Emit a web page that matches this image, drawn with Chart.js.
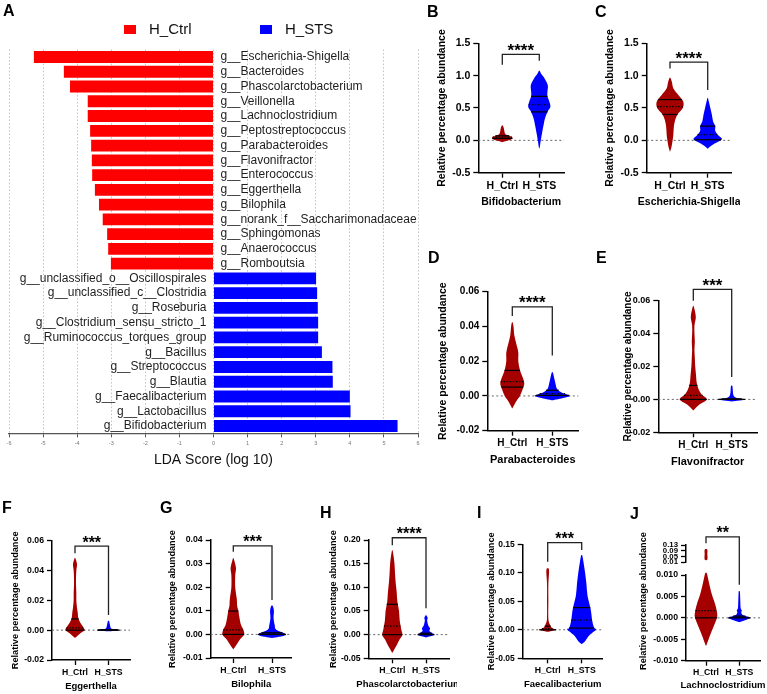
<!DOCTYPE html>
<html>
<head>
<meta charset="utf-8">
<script src="https://cdn.jsdelivr.net/npm/chart.js@4.4.1/dist/chart.umd.min.js"></script>
<style>
  html, body { margin: 0; padding: 0; background: #fff; }
  #fig { position: relative; width: 767px; height: 694px; overflow: hidden; }
  #fig canvas { position: absolute; }
  .tag { position: absolute; font: bold 16px/1 'Liberation Sans', Arial, sans-serif; color: #000; }
</style>
</head>
<body>
<div id="fig"></div>
<script>
// ---- Panel A: LDA scores ----
const ldaGenera = [
  'g__Escherichia-Shigella', 'g__Bacteroides', 'g__Phascolarctobacterium', 'g__Veillonella',
  'g__Lachnoclostridium', 'g__Peptostreptococcus', 'g__Parabacteroides', 'g__Flavonifractor',
  'g__Enterococcus', 'g__Eggerthella', 'g__Bilophila', 'g__norank_f__Saccharimonadaceae',
  'g__Sphingomonas', 'g__Anaerococcus', 'g__Romboutsia',
  'g__unclassified_o__Oscillospirales', 'g__unclassified_c__Clostridia', 'g__Roseburia',
  'g__Clostridium_sensu_stricto_1', 'g__Ruminococcus_torques_group', 'g__Bacillus',
  'g__Streptococcus', 'g__Blautia', 'g__Faecalibacterium', 'g__Lactobacillus', 'g__Bifidobacterium'
]
const ldaCtrl = [-5.27, -4.39, -4.21, -3.69, -3.69, -3.62, -3.59, -3.57, -3.56, -3.48, -3.36, -3.25, -3.12, -3.09, -3.01]
const ldaSts = [3.01, 3.04, 3.06, 3.07, 3.07, 3.18, 3.49, 3.50, 4.00, 4.02, 5.40]
const ldaTicks = [-6, -5, -4, -3, -2, -1, 0, 1, 2, 3, 4, 5, 6]

// ---- Violin panels: [value, half-width density] from bottom to top ----
const groups = ['H_Ctrl', 'H_STS']

const bifCtrl = [[-0.03, 0], [-0.015, 0.08], [0.0, 0.18], [0.02, 0.26], [0.04, 0.28], [0.06, 0.24], [0.08, 0.14], [0.10, 0.08], [0.13, 0.06], [0.16, 0.05], [0.19, 0.04], [0.22, 0.02], [0.235, 0]]
const bifSts = [[-0.13, 0], [-0.1, 0.015], [0.0, 0.04], [0.1, 0.07], [0.25, 0.12], [0.35, 0.16], [0.45, 0.23], [0.52, 0.3], [0.6, 0.27], [0.68, 0.22], [0.75, 0.22], [0.85, 0.23], [0.95, 0.15], [1.02, 0.06], [1.08, 0]]
const bifCtrlQ = [0.03, 0.05, 0.07]
const bifStsQ = [0.44, 0.55, 0.68]

const escCtrl = [[-0.18, 0], [-0.1, 0.04], [0.0, 0.07], [0.1, 0.09], [0.2, 0.1], [0.3, 0.13], [0.4, 0.2], [0.5, 0.34], [0.6, 0.35], [0.7, 0.22], [0.8, 0.09], [0.9, 0.05], [0.97, 0]]
const escSts = [[-0.13, 0], [-0.08, 0.1], [-0.03, 0.25], [0.02, 0.38], [0.08, 0.28], [0.15, 0.2], [0.22, 0.2], [0.3, 0.14], [0.4, 0.11], [0.5, 0.07], [0.6, 0.03], [0.66, 0]]
const escCtrlQ = [0.40, 0.52, 0.63]
const escStsQ = [0.01, 0.09, 0.22]

const paraCtrl = [[-0.0072, 0], [-0.003, 0.1], [0.0, 0.19], [0.004, 0.26], [0.007, 0.3], [0.01, 0.27], [0.015, 0.19], [0.02, 0.15], [0.025, 0.15], [0.03, 0.1], [0.035, 0.05], [0.04, 0.03], [0.0425, 0]]
const paraSts = [[-0.0025, 0], [-0.001, 0.3], [0.0, 0.44], [0.001, 0.35], [0.002, 0.23], [0.004, 0.12], [0.007, 0.08], [0.01, 0.05], [0.013, 0.02], [0.0138, 0]]
const paraCtrlQ = [0.0051, 0.0082, 0.0147]
const paraStsQ = [0.0003, 0.0013, 0.0033]

const flavCtrl = [[-0.0067, 0], [-0.003, 0.17], [0.0, 0.35], [0.003, 0.22], [0.006, 0.14], [0.01, 0.09], [0.015, 0.07], [0.02, 0.05], [0.025, 0.04], [0.03, 0.03], [0.035, 0.04], [0.04, 0.03], [0.045, 0.03], [0.05, 0.065], [0.055, 0.03], [0.057, 0]]
const flavSts = [[-0.0013, 0], [-0.0007, 0.2], [0.0, 0.35], [0.0005, 0.2], [0.0015, 0.08], [0.003, 0.04], [0.005, 0.03], [0.008, 0.02], [0.0085, 0]]
const flavCtrlQ = [0.0, 0.0025, 0.0085]
const flavStsQ = [0.0, 0.0001, 0.0003]

const eggCtrl = [[-0.0053, 0], [-0.002, 0.17], [0.0, 0.28], [0.002, 0.25], [0.005, 0.16], [0.008, 0.1], [0.012, 0.08], [0.015, 0.06], [0.02, 0.04], [0.025, 0.04], [0.03, 0.03], [0.035, 0.03], [0.04, 0.04], [0.044, 0.06], [0.047, 0.03], [0.0485, 0]]
const eggSts = [[-0.0008, 0], [0.0, 0.33], [0.001, 0.1], [0.002, 0.06], [0.004, 0.04], [0.006, 0.02], [0.0063, 0]]
const eggCtrlQ = [0.0, 0.0015, 0.0075]
const eggStsQ = [0.0, 0.00005, 0.0002]

const bilCtrl = [[-0.0064, 0], [-0.004, 0.1], [-0.002, 0.18], [0.0, 0.28], [0.002, 0.26], [0.004, 0.2], [0.007, 0.16], [0.01, 0.13], [0.012, 0.1], [0.015, 0.09], [0.02, 0.05], [0.025, 0.05], [0.028, 0.07], [0.031, 0.03], [0.0324, 0]]
const bilSts = [[-0.0015, 0], [-0.001, 0.18], [0.0, 0.36], [0.002, 0.11], [0.004, 0.07], [0.007, 0.04], [0.01, 0.05], [0.012, 0.02], [0.0122, 0]]
const bilCtrlQ = [0.0, 0.0019, 0.0099]
const bilStsQ = [0.0, 0.0002, 0.0007]

const phaCtrl = [[-0.039, 0], [-0.03, 0.07], [-0.02, 0.15], [-0.01, 0.22], [0.0, 0.3], [0.01, 0.27], [0.03, 0.22], [0.05, 0.2], [0.07, 0.15], [0.09, 0.13], [0.11, 0.1], [0.13, 0.08], [0.15, 0.065], [0.17, 0.03], [0.179, 0]]
const phaSts = [[-0.006, 0], [-0.004, 0.1], [0.0, 0.25], [0.004, 0.16], [0.008, 0.1], [0.013, 0.12], [0.02, 0.065], [0.03, 0.035], [0.035, 0.05], [0.04, 0.02], [0.041, 0]]
const phaCtrlQ = [0.0, 0.018, 0.064]
const phaStsQ = [0.0, 0.001, 0.003]

const faeCtrl = [[-0.0035, 0], [-0.002, 0.12], [0.0, 0.25], [0.002, 0.17], [0.005, 0.1], [0.01, 0.06], [0.02, 0.02], [0.05, 0.02], [0.08, 0.02], [0.1, 0.04], [0.107, 0.03], [0.108, 0]]
const faeSts = [[-0.025, 0], [-0.02, 0.1], [-0.01, 0.22], [0.0, 0.42], [0.003, 0.37], [0.01, 0.33], [0.02, 0.3], [0.03, 0.28], [0.04, 0.25], [0.06, 0.17], [0.08, 0.14], [0.1, 0.1], [0.12, 0.05], [0.13, 0.02], [0.131, 0]]
const faeCtrlQ = [0.0, 0.002, 0.0065]
const faeStsQ = [0.003, 0.017, 0.039]

const lacCtrl = [[-0.0065, 0], [-0.0062, 0.02], [-0.0041, 0.12], [-0.0022, 0.22], [0.0, 0.33], [0.0013, 0.33], [0.0033, 0.27], [0.0056, 0.17], [0.0087, 0.075], [0.0103, 0.03], [0.0105, 0]]
const lacCtrlHigh = [[0.024, 0], [0.03, 0.04], [0.05, 0.045], [0.07, 0.04], [0.09, 0.045], [0.1, 0.03], [0.103, 0]]
const lacSts = [[-0.001, 0], [-0.0005, 0.2], [0.0, 0.33], [0.0006, 0.12], [0.0012, 0.06], [0.0017, 0.075], [0.0023, 0.04], [0.004, 0.03], [0.006, 0.02], [0.0062, 0]]
const lacCtrlQ = [0.0, 0.0017, null]
const lacStsQ = [0.0, 0.0001, 0.0004]
const lacHighTicks = [0.01, 0.05, 0.09, 0.13]

// bracket: [top of bracket, end of left leg, end of right leg]
const bifBracket = [1.33, 1.17, 1.23]
const escBracket = [1.21, 1.11, 0.78]
const paraBracket = [0.0513, 0.046, 0.0233]
const flavBracket = [0.0669, 0.060, 0.0136]
const eggBracket = [0.0563, 0.0514, 0.0101]
const bilBracket = [0.0375, 0.035, 0.0146]
const phaBracket = [0.2048, 0.189, 0.0556]
const faeBracket = [0.1528, 0.1195, 0.14]
const lacBracket = [0.0189, 0.0174, 0.0077]

const CTRL_RED = '#a50000'
const STS_BLUE = '#0000ff'
const FONT = "'Liberation Sans', Arial, sans-serif"

Chart.defaults.font.family = FONT
Chart.defaults.color = '#000'

const fig = document.getElementById('fig')

function addCanvas(left, top, w, h) {
  const c = document.createElement('canvas')
  c.width = w
  c.height = h
  c.style.left = left + 'px'
  c.style.top = top + 'px'
  c.style.width = w + 'px'
  c.style.height = h + 'px'
  fig.appendChild(c)
  return c
}

function addTag(text, left, top) {
  const d = document.createElement('div')
  d.className = 'tag'
  d.textContent = text
  d.style.left = left + 'px'
  d.style.top = top + 'px'
  fig.appendChild(d)
}

// Catmull-Rom through pixel points
function smoothPath(ctx, pts) {
  ctx.moveTo(pts[0].x, pts[0].y)
  for (let i = 0; i < pts.length - 1; i++) {
    const p0 = pts[i - 1] || pts[i], p1 = pts[i], p2 = pts[i + 1], p3 = pts[i + 2] || p2
    ctx.bezierCurveTo(
      p1.x + (p2.x - p0.x) / 6, p1.y + (p2.y - p0.y) / 6,
      p2.x - (p3.x - p1.x) / 6, p2.y - (p3.y - p1.y) / 6,
      p2.x, p2.y)
  }
}

function densityAt(profile, v) {
  for (let i = 0; i < profile.length - 1; i++) {
    const [a, da] = profile[i], [b, db] = profile[i + 1]
    if (v >= a && v <= b) return da + (db - da) * (v - a) / (b - a)
  }
  return 0
}

// Draws violins, quartile lines, zero line, bracket and titles from the chart's scales
const violinPlugin = {
  id: 'violins',
  beforeDatasetsDraw(chart, args, opts) {
    if (!opts.zeroLine) return
    const { ctx, chartArea } = chart
    const py = chart.scales.y.getPixelForValue(0)
    ctx.save()
    ctx.setLineDash([2, 2.5])
    ctx.strokeStyle = '#666'
    ctx.lineWidth = 1
    ctx.beginPath()
    ctx.moveTo(chartArea.left, py)
    ctx.lineTo(chartArea.right, py)
    ctx.stroke()
    ctx.restore()
  },
  afterDatasetsDraw(chart, args, opts) {
    const { ctx, chartArea } = chart
    const xs = chart.scales.x, ys = chart.scales.y
    ctx.save()
    ;(opts.items || []).forEach(item => {
      const cx = xs.getPixelForValue(item.pos)
      const unit = xs.getPixelForValue(item.pos + 1) - cx
      const right = item.profile.map(([v, d]) => ({ x: cx + d * unit, y: ys.getPixelForValue(v) }))
      const left = item.profile.slice().reverse().map(([v, d]) => ({ x: cx - d * unit, y: ys.getPixelForValue(v) }))
      ctx.beginPath()
      smoothPath(ctx, right.concat(left.slice(1)))
      ctx.closePath()
      ctx.fillStyle = item.color
      ctx.fill()
      ctx.strokeStyle = '#000'
      ctx.lineWidth = 1.2
      ;(item.quart || []).forEach((q, k) => {
        if (q == null) return
        const hw = densityAt(item.profile, q) * unit
        const py = ys.getPixelForValue(q)
        ctx.setLineDash(k === 1 ? [1.5, 1.5] : [])
        ctx.beginPath()
        ctx.moveTo(cx - hw, py)
        ctx.lineTo(cx + hw, py)
        ctx.stroke()
      })
    })
    ctx.setLineDash([])
    ctx.fillStyle = '#000'
    ctx.textAlign = 'center'
    if (opts.bracket) {
      const [top, l, r] = opts.bracket.values
      const x0 = xs.getPixelForValue(0), x1 = xs.getPixelForValue(1)
      const pt = ys.getPixelForValue(top)
      ctx.strokeStyle = '#222'
      ctx.lineWidth = 1.3
      ctx.beginPath()
      ctx.moveTo(x0, ys.getPixelForValue(l))
      ctx.lineTo(x0, pt)
      ctx.lineTo(x1, pt)
      ctx.lineTo(x1, ys.getPixelForValue(r))
      ctx.stroke()
      ctx.font = 'bold ' + opts.bracket.size + 'px ' + FONT
      ctx.textBaseline = 'alphabetic'
      ctx.fillText(opts.bracket.text, (x0 + x1) / 2, pt + 1.5)
    }
    if (opts.xTitle) {
      ctx.font = 'bold ' + opts.xTitle.size + 'px ' + FONT
      ctx.textBaseline = 'middle'
      ctx.fillText(opts.xTitle.text, (chartArea.left + chartArea.right) / 2, opts.xTitle.y)
    }
    if (opts.sideTitle) {
      const t = opts.sideTitle
      ctx.translate(t.x, t.y)
      ctx.rotate(-Math.PI / 2)
      ctx.font = 'bold ' + t.size + 'px ' + FONT
      ctx.textBaseline = 'middle'
      ctx.fillText(t.text, 0, 0)
    }
    ctx.restore()
  }
}

const FONTS = {
  top: { tick: 10.5, ytick: 10.5, title: 10.5, ytitle: 10.5, stars: 17 },
  mid: { tick: 10, ytick: 10, title: 11, ytitle: 10.5, stars: 17 },
  low: { tick: 8.7, ytick: 8.7, title: 9.5, ytitle: 9.2, stars: 16 }
}

function axisStyle() {
  return {
    grid: { display: true, drawOnChartArea: false, drawTicks: true, tickLength: 5, tickColor: '#000', tickWidth: 1.3 },
    border: { display: true, color: '#000', width: 1.5 }
  }
}

// p: layout of one violin panel (pixel positions on the page)
function violinPanel(p, ctrl, sts, ctrlQ, stsQ, bracket, stars) {
  const TOP = 62, YW = 60, XH = 45, RP = 8
  const fs = Object.assign({}, FONTS[p.row], p.fonts || {})
  const cl = Math.floor(p.l - YW), ct = Math.floor(p.t - TOP)
  const w = Math.ceil(p.r + RP - cl), h = Math.ceil(p.b + XH - ct)
  const unit = p.stsPx - p.ctrlPx
  const xMin = (p.l - p.ctrlPx) / unit, xMax = (p.r - p.ctrlPx) / unit
  const ytLh = fs.ytitle * 1.2
  const yPad = p.yTitleX - (p.l - YW) - ytLh / 2
  const canvas = addCanvas(cl, ct, w, h)
  const sideTitle = p.sideTitleY ? {
    text: 'Relative percentage abundance', size: fs.ytitle, x: p.yTitleX - cl, y: p.sideTitleY - ct
  } : null
  return new Chart(canvas, {
    type: 'scatter',
    data: { datasets: [] },
    options: {
      responsive: false,
      animation: false,
      layout: { padding: { left: p.l - YW - cl, top: p.t - ct, right: cl + w - p.r, bottom: ct + h - p.b - XH } },
      plugins: {
        legend: { display: false },
        tooltip: { enabled: false },
        violins: {
          zeroLine: true,
          items: [
            { pos: 0, profile: ctrl, quart: ctrlQ, color: CTRL_RED },
            { pos: 1, profile: sts, quart: stsQ, color: STS_BLUE }
          ],
          bracket: { values: bracket, text: stars, size: fs.stars },
          xTitle: { text: p.title, size: fs.title, y: p.xTitleY - ct },
          sideTitle
        }
      },
      scales: {
        x: {
          type: 'linear', min: xMin, max: xMax,
          afterBuildTicks: s => { s.ticks = [{ value: 0 }, { value: 1 }] },
          afterFit: s => { s.height = XH },
          ticks: { callback: v => groups[v], font: { size: fs.tick, weight: 'bold' }, color: '#000', padding: 2, maxRotation: 0, autoSkip: false },
          ...axisStyle()
        },
        y: {
          type: 'linear', min: p.yMin, max: p.yMax,
          afterFit: s => { s.width = YW },
          ticks: { stepSize: p.yStep, callback: v => v.toFixed(p.digits), font: { size: fs.ytick, weight: 'bold' }, color: '#000', padding: 3 },
          title: { display: !sideTitle, text: 'Relative percentage abundance', font: { size: fs.ytitle, weight: 'bold' }, color: '#000', padding: { top: yPad, bottom: 0 } },
          ...axisStyle()
        }
      }
    },
    plugins: [violinPlugin]
  })
}

// ---- Panel A chart ----
const ldaDecor = {
  id: 'ldaDecor',
  afterDatasetsDraw(chart) {
    const { ctx } = chart
    const xs = chart.scales.x, ys = chart.scales.y
    const x0 = xs.getPixelForValue(0)
    ctx.save()
    ctx.font = '12px ' + FONT
    ctx.fillStyle = '#1e1e1e'
    ctx.textBaseline = 'middle'
    chart.data.labels.forEach((name, i) => {
      const y = ys.getPixelForValue(i)
      if (i < ldaCtrl.length) {
        ctx.textAlign = 'left'
        ctx.fillText(name, x0 + 7, y)
      } else {
        ctx.textAlign = 'right'
        ctx.fillText(name, x0 - 7, y)
      }
    })
    // legend
    const slots = [124, 260]
    ctx.font = '15px ' + FONT
    ctx.textAlign = 'left'
    chart.data.datasets.forEach((ds, i) => {
      ctx.fillStyle = ds.backgroundColor
      ctx.fillRect(slots[i], 25, 12, 9)
      ctx.fillStyle = '#111'
      ctx.fillText(ds.label, slots[i] + 25, 30)
    })
    ctx.restore()
  }
}

new Chart(addCanvas(0, 0, 457, 475), {
  type: 'bar',
  data: {
    labels: ldaGenera,
    datasets: [
      {
        label: 'H_Ctrl', backgroundColor: '#ff0000', grouped: false, barPercentage: 0.8, categoryPercentage: 1,
        data: ldaGenera.map((_, i) => i < ldaCtrl.length ? ldaCtrl[i] : null)
      },
      {
        label: 'H_STS', backgroundColor: '#0000ff', grouped: false, barPercentage: 0.8, categoryPercentage: 1,
        data: ldaGenera.map((_, i) => i >= ldaCtrl.length ? ldaSts[i - ldaCtrl.length] : null)
      }
    ]
  },
  options: {
    indexAxis: 'y',
    responsive: false,
    animation: false,
    layout: { padding: { left: 9, right: 39, top: 49.6, bottom: 0 } },
    plugins: { legend: { display: false }, tooltip: { enabled: false } },
    scales: {
      x: {
        min: ldaTicks[0], max: ldaTicks[ldaTicks.length - 1],
        afterBuildTicks: s => { s.ticks = ldaTicks.map(v => ({ value: v })) },
        afterFit: s => { s.height = 41.6 },
        ticks: { font: { size: 5.5 }, color: '#777', padding: 3 },
        grid: { color: '#c2c2c2', lineWidth: 1, tickLength: 4, tickColor: '#555', tickBorderDash: [] },
        border: { display: true, color: '#555', width: 1.2, dash: [1.5, 2] },
        title: { display: true, text: 'LDA Score (log 10)', font: { size: 14 }, color: '#111', padding: { top: 0, bottom: 6.6 } }
      },
      y: { display: false }
    }
  },
  plugins: [ldaDecor]
})

// ---- Violin panels ----
violinPanel({ row: 'top', l: 478.3, t: 43.3, r: 564, b: 172.7, ctrlPx: 502.3, stsPx: 539.3, yMin: -0.5, yMax: 1.5, yStep: 0.5, digits: 1, title: 'Bifidobacterium', yTitleX: 442, xTitleY: 201.7 },
  bifCtrl, bifSts, bifCtrlQ, bifStsQ, bifBracket, '****')
violinPanel({ row: 'top', l: 646.7, t: 43.3, r: 731.7, b: 172.7, ctrlPx: 670, stsPx: 707.7, yMin: -0.5, yMax: 1.5, yStep: 0.5, digits: 1, title: 'Escherichia-Shigella', yTitleX: 610, xTitleY: 201.7 },
  escCtrl, escSts, escCtrlQ, escStsQ, escBracket, '****')
violinPanel({ row: 'mid', l: 487.3, t: 291.7, r: 578.3, b: 430.7, ctrlPx: 512.3, stsPx: 552.3, yMin: -0.02, yMax: 0.06, yStep: 0.02, digits: 2, title: 'Parabacteroides', yTitleX: 443, xTitleY: 460 },
  paraCtrl, paraSts, paraCtrlQ, paraStsQ, paraBracket, '****')
violinPanel({ row: 'mid', l: 658.3, t: 300.7, r: 757, b: 432.3, ctrlPx: 693.3, stsPx: 731.7, yMin: -0.02, yMax: 0.06, yStep: 0.02, digits: 2, title: 'Flavonifractor', yTitleX: 628, xTitleY: 461.7, fonts: { ytick: 9, ytitle: 10 } },
  flavCtrl, flavSts, flavCtrlQ, flavStsQ, flavBracket, '***')
violinPanel({ row: 'low', l: 52, t: 540.5, r: 130, b: 660, ctrlPx: 75, stsPx: 108.5, yMin: -0.02, yMax: 0.06, yStep: 0.02, digits: 2, title: 'Eggerthella', yTitleX: 15, xTitleY: 686.7 },
  eggCtrl, eggSts, eggCtrlQ, eggStsQ, eggBracket, '***')
violinPanel({ row: 'low', l: 210.7, t: 540, r: 291.7, b: 658, ctrlPx: 233.3, stsPx: 272, yMin: -0.01, yMax: 0.04, yStep: 0.01, digits: 2, title: 'Bilophila', yTitleX: 172, xTitleY: 684.3 },
  bilCtrl, bilSts, bilCtrlQ, bilStsQ, bilBracket, '***')
violinPanel({ row: 'low', l: 368.7, t: 540, r: 449, b: 658.3, ctrlPx: 392.3, stsPx: 426, yMin: -0.05, yMax: 0.2, yStep: 0.05, digits: 2, title: 'Phascolarctobacterium', yTitleX: 333.3, xTitleY: 684.3 },
  phaCtrl, phaSts, phaCtrlQ, phaStsQ, phaBracket, '****')
violinPanel({ row: 'low', l: 522.7, t: 544.3, r: 602.7, b: 658.3, ctrlPx: 547.7, stsPx: 581.7, yMin: -0.05, yMax: 0.15, yStep: 0.05, digits: 2, title: 'Faecalibacterium', yTitleX: 491.7, xTitleY: 684.3, fonts: { ytick: 8.5 } },
  faeCtrl, faeSts, faeCtrlQ, faeStsQ, faeBracket, '***')
const jLayout = { row: 'low', l: 686, t: 575, r: 760, b: 660.7, ctrlPx: 706, stsPx: 739.3, yMin: -0.01, yMax: 0.01, yStep: 0.005, digits: 3, title: 'Lachnoclostridium', yTitleX: 643.3, xTitleY: 685, sideTitleY: 601 }
violinPanel(jLayout, lacCtrl, lacSts, lacCtrlQ, lacStsQ, lacBracket, '**')

// upper segment of the broken J axis
;(function () {
  const p = jLayout, top = 545, bottom = 566
  const cl = Math.floor(p.l - 60), ct = top - 8
  const w = Math.ceil(p.r + 8 - cl), h = bottom + 4 - ct
  const unit = p.stsPx - p.ctrlPx
  new Chart(addCanvas(cl, ct, w, h), {
    type: 'scatter',
    data: { datasets: [] },
    options: {
      responsive: false,
      animation: false,
      layout: { padding: { left: p.l - 60 - cl, top: top - ct, right: cl + w - p.r, bottom: ct + h - bottom } },
      plugins: {
        legend: { display: false },
        tooltip: { enabled: false },
        violins: { items: [{ pos: 0, profile: lacCtrlHigh, quart: [], color: CTRL_RED }] }
      },
      scales: {
        x: { type: 'linear', display: false, min: (p.l - p.ctrlPx) / unit, max: (p.r - p.ctrlPx) / unit },
        y: {
          type: 'linear', min: lacHighTicks[0], max: lacHighTicks[lacHighTicks.length - 1],
          afterBuildTicks: s => { s.ticks = lacHighTicks.map(v => ({ value: v })) },
          afterFit: s => { s.width = 60 },
          ticks: { callback: v => v.toFixed(2), font: { size: 7.8, weight: 'bold' }, color: '#000', padding: 3, autoSkip: false },
          ...axisStyle()
        }
      }
    },
    plugins: [violinPlugin]
  })
})()

// panel letters
addTag('A', 3, 3)
addTag('B', 427, 4)
addTag('C', 595, 4)
addTag('D', 428, 250)
addTag('E', 596, 250)
addTag('F', 2, 500)
addTag('G', 160, 500)
addTag('H', 320, 505)
addTag('I', 477, 505)
addTag('J', 630, 506)
</script>
</body>
</html>
